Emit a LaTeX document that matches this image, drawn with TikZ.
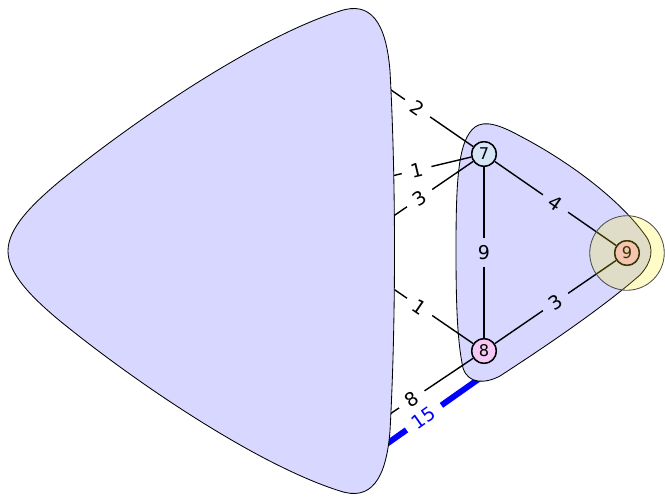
\documentclass[tikz,border=0pt]{standalone}
\usepackage{fontspec}
\setmainfont{DejaVu Sans}
\usepackage{xcolor}

\definecolor{blobblue}{RGB}{215,215,255}
\definecolor{sevenfill}{RGB}{213,230,247}
\definecolor{eightfill}{RGB}{246,200,246}
\definecolor{ninefill}{RGB}{242,185,228}

\pgfdeclarelayer{deep}
\pgfdeclarelayer{back}
\pgfdeclarelayer{mid}
\pgfdeclarelayer{cover}
\pgfdeclarelayer{front}
\pgfsetlayers{deep,back,mid,cover,main,front}

\begin{document}
\begin{tikzpicture}[
  x=0.025cm, y=-0.025cm,
  blob/.style={draw=black, line width=0.6pt, fill=blobblue},
  vertex/.style={circle, draw=black, line width=1pt, minimum size=17.5pt, inner sep=0pt, font=\fontsize{11.5}{13}\selectfont},
  edge/.style={line width=1pt},
  heavy/.style={line width=4.2pt, blue},
  wlab/.style={sloped, fill=white, inner xsep=6.5pt, inner ysep=0pt, font=\fontsize{13.5}{15}\selectfont},
  blab/.style={wlab, fill=blobblue},
  vlab/.style={fill=blobblue, inner xsep=1pt, inner ysep=5pt, font=\fontsize{13.5}{15}\selectfont},
  glow/.style={circle, draw=black!70, line width=0.6pt, fill=yellow, fill opacity=0.22, minimum size=53pt, inner sep=0pt}
]
\useasboundingbox (0,0) rectangle (665,497);

% Vertices
\node[vertex, fill=sevenfill] (n7) at (484,154) {7};
\node[vertex, fill=eightfill] (n8) at (484,351) {8};
\node[vertex, fill=ninefill] (n9) at (627,253) {9};

% Ends hidden under the blobs
\coordinate (s1) at (370,75.5);
\coordinate (s2) at (370,181.2);
\coordinate (s3) at (370,232.1);
\coordinate (s4) at (370,272.9);
\coordinate (s5) at (370,427.4);
\coordinate (s6) at (370,455.7);
\coordinate (t6) at (500,364);

% Heavy edge between the two blobs
\begin{pgfonlayer}{deep}
\draw[heavy] (s6) -- node[wlab, pos=0.415, text=blue] {15} (t6);
\end{pgfonlayer}

% Small blob
\begin{pgfonlayer}{back}
\draw[blob] (456,250) .. controls (456,180) and (458,140) .. (475,127)
  .. controls (485,120) and (500,125) .. (520,136)
  .. controls (570,162) and (620,200) .. (645,235)
  .. controls (655,248) and (652,262) .. (640,275)
  .. controls (600,310) and (540,350) .. (500,376)
  .. controls (485,384) and (468,384) .. (463,368)
  .. controls (457,340) and (456,300) .. (456,250) -- cycle;
\end{pgfonlayer}

% Edges leaving the big blob
\begin{pgfonlayer}{mid}
\draw[edge] (s1) -- node[wlab, pos=0.46] {2} (n7);
\draw[edge] (s2) -- node[wlab, pos=0.46] {1} (n7);
\draw[edge] (s3) -- node[wlab, pos=0.48] {3} (n7);
\draw[edge] (s4) -- node[wlab, pos=0.48] {1} (n8);
\draw[edge] (s5) -- node[wlab, pos=0.405] {8} (n8);
\end{pgfonlayer}

% Big blob
\begin{pgfonlayer}{cover}
\draw[blob] (8,251) .. controls (8,229) and (30,206) .. (60,181)
  .. controls (140,116) and (260,36) .. (340,11)
  .. controls (370,1) and (386,21) .. (390,71)
  .. controls (396,181) and (396,321) .. (390,431)
  .. controls (386,481) and (370,501) .. (340,491)
  .. controls (260,466) and (140,386) .. (60,321)
  .. controls (30,296) and (8,273) .. (8,251) -- cycle;
\end{pgfonlayer}

% Edges inside the small blob
\draw[edge] (n7) -- node[vlab] {9} (n8);
\draw[edge] (n7) -- node[blab] {4} (n9);
\draw[edge] (n8) -- node[blab] {3} (n9);

% Redraw vertices on top of their edges
\node[vertex, fill=sevenfill] at (n7) {7};
\node[vertex, fill=eightfill] at (n8) {8};
\node[vertex, fill=ninefill] at (n9) {9};

% Highlight
\begin{pgfonlayer}{front}
\node[glow] (halo) at (n9) {};
\end{pgfonlayer}

\end{tikzpicture}
\end{document}
